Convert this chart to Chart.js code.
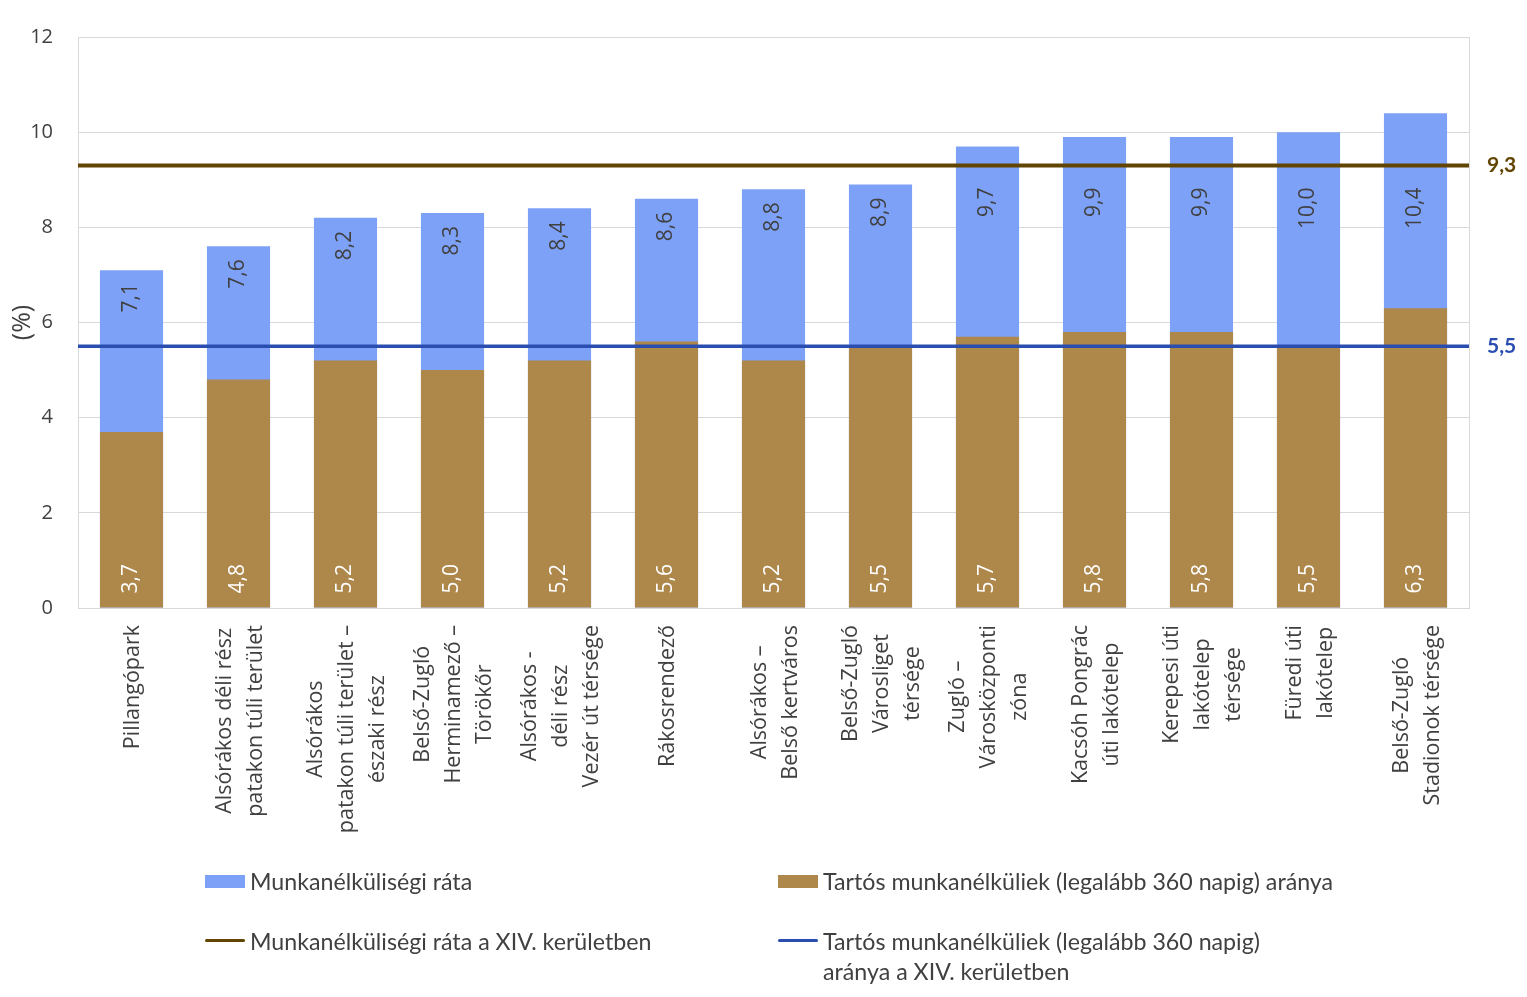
<!DOCTYPE html>
<html>
<head>
<meta charset="utf-8">
<script src="https://cdn.jsdelivr.net/npm/chart.js@4.4.1/dist/chart.umd.min.js"></script>
<style>
  html, body { margin: 0; padding: 0; background: #fff; }
  #wrap { position: relative; width: 1527px; height: 997px; }
  canvas { position: absolute; left: 0; top: 0; }
  .lg { position: absolute; font-family: Lato, "Liberation Sans", sans-serif; font-size: 23.2px; color: #404040; line-height: 30px; white-space: nowrap; }
  .sw { position: absolute; }
</style>
</head>
<body>
<div id="wrap">
  <canvas id="c" width="1527" height="997"></canvas>
  <div class="sw" style="left:205px;top:875px;width:40px;height:13px;background:#7EA1F8;"></div>
  <div class="lg" style="left:250px;top:866px;">Munkanélküliségi ráta</div>
  <div class="sw" style="left:778px;top:875px;width:40px;height:13px;background:#AE874B;"></div>
  <div class="lg" style="left:823px;top:866px;">Tartós munkanélküliek (legalább 360 napig) aránya</div>
  <div class="sw" style="left:205px;top:939px;width:40px;height:3px;background:#614500;border-radius:2px;"></div>
  <div class="lg" style="left:250px;top:926px;">Munkanélküliségi ráta a XIV. kerületben</div>
  <div class="sw" style="left:778px;top:939px;width:40px;height:3px;background:#2A4DB0;border-radius:2px;"></div>
  <div class="lg" style="left:823px;top:926px;">Tartós munkanélküliek (legalább 360 napig)<br>aránya a XIV. kerületben</div>
</div>
<script>
const categories = [
  ["Pillangópark"],
  ["Alsórákos déli rész", "patakon túli terület"],
  ["Alsórákos", "patakon túli terület –", "északi rész"],
  ["Belső-Zugló", "Herminamező –", "Törökőr"],
  ["Alsórákos -", "déli rész", "Vezér út térsége"],
  ["Rákosrendező"],
  ["Alsórákos –", "Belső kertváros"],
  ["Belső-Zugló", "Városliget", "térsége"],
  ["Zugló –", "Városközponti", "zóna"],
  ["Kacsóh Pongrác", "úti lakótelep"],
  ["Kerepesi úti", "lakótelep", "térsége"],
  ["Füredi úti", "lakótelep"],
  ["Belső-Zugló", "Stadionok térsége"]
];
const unemploymentRate = [7.1, 7.6, 8.2, 8.3, 8.4, 8.6, 8.8, 8.9, 9.7, 9.9, 9.9, 10.0, 10.4];
const longTermRate = [3.7, 4.8, 5.2, 5.0, 5.2, 5.6, 5.2, 5.5, 5.7, 5.8, 5.8, 5.5, 6.3];
const districtRate = 9.3;
const districtLongTermRate = 5.5;
const yTicks = [0, 2, 4, 6, 8, 10, 12];

const seriesNames = [
  "Munkanélküliségi ráta",
  "Tartós munkanélküliek (legalább 360 napig) aránya",
  "Munkanélküliségi ráta a XIV. kerületben",
  "Tartós munkanélküliek (legalább 360 napig) aránya a XIV. kerületben"
];

const COL_BLUE = '#7EA1F8', COL_BROWN = '#AE874B', COL_LINE1 = '#614500', COL_LINE2 = '#2A4DB0';
const TXT = '#404040';
const FONT = '"Open Sans"';
const fmt = v => v.toFixed(1).replace('.', ',');

const drawPlugin = {
  id: 'custom',
  beforeDatasetsDraw(chart) {
    const ctx = chart.ctx, a = chart.chartArea;
    ctx.save();
    ctx.strokeStyle = '#d9d9d9';
    ctx.lineWidth = 1;
    ctx.beginPath();
    ctx.moveTo(Math.round(a.right) + 0.5, a.top);
    ctx.lineTo(Math.round(a.right) + 0.5, a.bottom);
    ctx.stroke();
    ctx.restore();
  },
  afterDraw(chart) {
    const ctx = chart.ctx, a = chart.chartArea;
    const xs = chart.scales.x, ys = chart.scales.y;
    const refY = ys.getPixelForValue(districtRate);
    ctx.save();
    ctx.font = '21px ' + FONT;
    ctx.textBaseline = 'middle';
    const mBlue = chart.getDatasetMeta(0);
    mBlue.data.forEach((el, i) => {
      const top = el.y;
      const anchor = top < refY ? refY + 22 : top + 13;
      ctx.save();
      ctx.translate(el.x, anchor);
      ctx.rotate(-Math.PI / 2);
      ctx.textAlign = 'right';
      ctx.fillStyle = TXT;
      ctx.fillText(fmt(unemploymentRate[i]), 0, 0);
      ctx.restore();
    });
    const mBrown = chart.getDatasetMeta(1);
    mBrown.data.forEach((el, i) => {
      ctx.save();
      ctx.translate(el.x, el.base - 14);
      ctx.rotate(-Math.PI / 2);
      ctx.textAlign = 'left';
      ctx.fillStyle = '#ffffff';
      ctx.fillText(fmt(longTermRate[i]), 0, 0);
      ctx.restore();
    });
    ctx.font = '21.5px ' + FONT;
    ctx.fillStyle = TXT;
    const lh = 31;
    categories.forEach((lines, i) => {
      const x = xs.getPixelForValue(i) + 1.5;
      let maxW = 0;
      lines.forEach(l => { maxW = Math.max(maxW, ctx.measureText(l).width); });
      ctx.save();
      ctx.translate(x, a.bottom + 17 + maxW / 2);
      ctx.rotate(-Math.PI / 2);
      ctx.textAlign = 'center';
      lines.forEach((l, k) => {
        ctx.fillText(l, 0, (k - (lines.length - 1) / 2) * lh);
      });
      ctx.restore();
    });
    ctx.font = 'bold 21px Lato';
    ctx.textAlign = 'left';
    ctx.fillStyle = COL_LINE1;
    ctx.fillText(fmt(districtRate), a.right + 18, ys.getPixelForValue(districtRate));
    ctx.fillStyle = COL_LINE2;
    ctx.fillText(fmt(districtLongTermRate), a.right + 18, ys.getPixelForValue(districtLongTermRate));
    ctx.restore();
  }
};

function build() {
  new Chart(document.getElementById('c'), {
    data: {
      labels: categories.map(c => c.join(' ')),
      datasets: [
        { type: 'bar', label: seriesNames[0], data: unemploymentRate, backgroundColor: COL_BLUE,
          grouped: false, order: 2, categoryPercentage: 1, barPercentage: 0.59 },
        { type: 'bar', label: seriesNames[1], data: longTermRate, backgroundColor: COL_BROWN,
          grouped: false, order: 1, categoryPercentage: 1, barPercentage: 0.59 },
        { type: 'line', label: seriesNames[2], xAxisID: 'x2',
          data: [{x: 0, y: districtRate}, {x: 1, y: districtRate}],
          borderColor: COL_LINE1, borderWidth: 4, pointRadius: 0, order: 0, clip: false },
        { type: 'line', label: seriesNames[3], xAxisID: 'x2',
          data: [{x: 0, y: districtLongTermRate}, {x: 1, y: districtLongTermRate}],
          borderColor: COL_LINE2, borderWidth: 3.5, pointRadius: 0, order: 0, clip: false }
      ]
    },
    options: {
      responsive: false,
      animation: false,
      devicePixelRatio: 1,
      layout: { padding: { top: 35, right: 58, left: 0, bottom: 0 } },
      plugins: { legend: { display: false }, tooltip: { enabled: false } },
      scales: {
        x: {
          type: 'category',
          offset: true,
          ticks: { display: false },
          grid: { display: false, drawTicks: false },
          border: { display: true, color: '#d9d9d9', width: 1 },
          afterFit(s) { s.height = 389; }
        },
        x2: { type: 'linear', min: 0, max: 1, display: false },
        y: {
          min: 0, max: 12,
          afterBuildTicks(s) { s.ticks = yTicks.map(v => ({ value: v })); },
          ticks: { font: { family: 'Open Sans', size: 20 }, color: TXT, padding: 25 },
          grid: { color: '#d9d9d9', lineWidth: 1, drawTicks: false },
          border: { display: true, color: '#d9d9d9', width: 1 },
          title: { display: true, text: '(%)', font: { family: 'Open Sans', size: 25 }, color: TXT, padding: { top: 8, bottom: 0 } },
          afterFit(s) { s.width = 78; }
        }
      }
    },
    plugins: [drawPlugin]
  });
}

Promise.all([
  document.fonts.load('20px "Open Sans"'),
  document.fonts.load('bold 21px Lato'),
  document.fonts.load('23px Lato')
]).then(build, build);
</script>
</body>
</html>
